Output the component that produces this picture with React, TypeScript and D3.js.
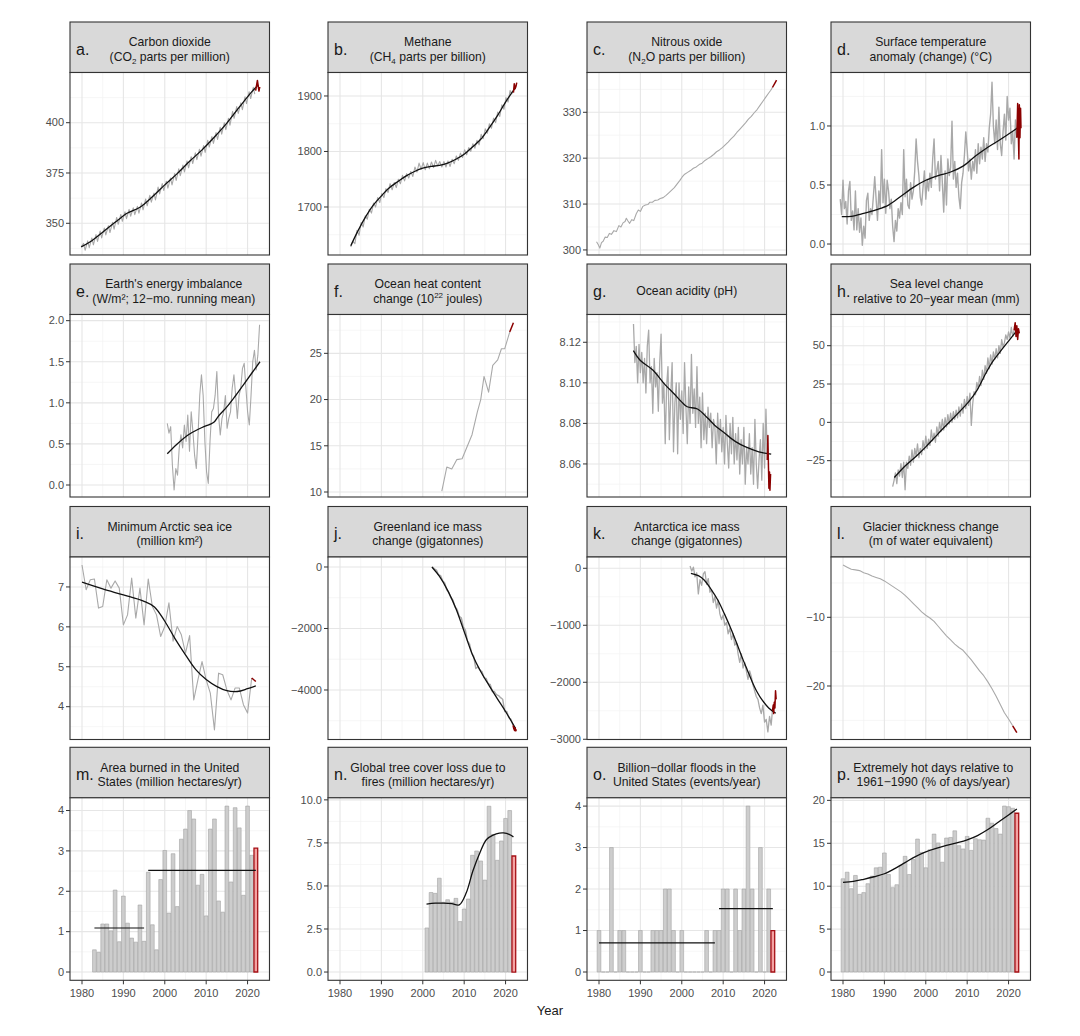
import React from "react";
import * as d3 from "d3";

type Pt = [number, number];

// ---------------- shared axis data ----------------
const X_DOMAIN: [number, number] = [1977.1, 2025.3];
const YEARS_MAJOR = [1980, 1990, 2000, 2010, 2020];
const YEARS_MINOR = [1985, 1995, 2005, 2015, 2025];
const X_TICK_LABELS = ["1980", "1990", "2000", "2010", "2020"];

// ---------------- a. CO2 ----------------
const co2Peak = [340.0, 341.3, 342.7, 344.4, 346.1, 347.6, 348.8, 350.5, 352.9, 354.4, 355.7, 356.9, 357.7, 358.4, 360.1, 362.1, 363.9, 365.0, 368.0, 369.7, 370.9, 372.5, 374.7, 377.1, 378.9, 381.0, 383.1, 385.0, 386.8, 388.6, 391.3, 393.1, 395.1, 397.7, 399.9, 402.2, 405.6, 408.0, 409.9, 412.9, 415.4, 417.6];
const co2Trough = [336.6, 337.9, 339.3, 341.0, 342.7, 344.2, 345.4, 347.1, 349.5, 351.0, 352.3, 353.5, 354.3, 355.0, 356.7, 358.7, 360.5, 361.6, 364.6, 366.3, 367.5, 369.1, 371.3, 373.7, 375.5, 377.6, 379.7, 381.6, 383.4, 385.2, 387.9, 389.7, 391.7, 394.3, 396.5, 398.8, 402.2, 404.6, 406.5, 409.5, 412.0, 414.2];
const co2Trend: Pt[] = [[1979.8, 338.3], [1982, 340.8], [1985, 345.6], [1988, 350.5], [1991, 355.1], [1994, 358.0], [1997, 363.2], [2000, 369.1], [2003, 374.7], [2006, 380.8], [2009, 386.5], [2012, 392.9], [2015, 399.8], [2018, 407.7], [2021, 415.3], [2022.6, 418.8]];
const co2Red: Pt[] = [[2021.95, 416.0], [2022.38, 421.0], [2022.75, 415.7], [2022.95, 417.8]];

// ---------------- b. CH4 ----------------
const ch4Peak = [1638, 1658, 1672, 1684, 1696, 1707, 1717, 1724, 1733, 1742, 1744, 1750, 1757, 1760, 1764, 1772, 1779, 1780, 1779, 1781, 1784, 1782, 1782, 1783, 1786, 1792, 1797, 1803, 1807, 1814, 1820, 1831, 1841, 1850, 1860, 1871, 1884, 1897, 1910];
const ch4Trough = [1634, 1649, 1664, 1678, 1689, 1700, 1708, 1717, 1726, 1731, 1735, 1742, 1747, 1752, 1755, 1763, 1768, 1767, 1769, 1771, 1774, 1772, 1772, 1773, 1778, 1784, 1789, 1794, 1800, 1806, 1812, 1823, 1833, 1842, 1852, 1863, 1876, 1889, 1903];
const ch4Trend: Pt[] = [[1982.6, 1630], [1984, 1652], [1986, 1680], [1988, 1703], [1990, 1720], [1992, 1735], [1994, 1746], [1996, 1756], [1998, 1764], [2000, 1770], [2002, 1773], [2004, 1775], [2006, 1779], [2008, 1786], [2010, 1795], [2012, 1808], [2014, 1822], [2016, 1842], [2018, 1864], [2020, 1889], [2022.3, 1914]];
const ch4Red: Pt[] = [[2021.9, 1906], [2022.1, 1922], [2022.3, 1913], [2022.5, 1917], [2022.7, 1924]];

// ---------------- c. N2O ----------------
const n2oGray: Pt[] = [[1979.4, 301.8], [1979.8, 301.2], [1980.2, 300.4], [1980.6, 301.6], [1981.0, 301.9], [1981.5, 302.8], [1982.0, 302.7], [1982.5, 303.6], [1983.0, 303.4], [1983.6, 304.2], [1984.2, 304.0], [1984.8, 305.3], [1985.3, 305.0], [1985.8, 305.9], [1986.3, 306.2], [1986.6, 306.9], [1987.0, 306.3], [1987.4, 305.8], [1987.9, 306.6], [1988.4, 306.4], [1989.0, 307.9], [1989.5, 308.7], [1990.0, 308.4], [1990.6, 309.5], [1991.2, 309.8], [1991.8, 309.9], [1992.3, 310.4], [1992.9, 310.4], [1993.5, 310.8], [1994.2, 310.9], [1994.8, 311.2], [1995.5, 311.4], [1996.2, 311.9], [1996.8, 312.4], [1997.5, 313.0], [1998.2, 313.6], [1998.8, 314.3], [1999.5, 315.1], [2000.1, 315.9], [2000.7, 316.5], [2001.4, 316.9], [2002.1, 317.3], [2002.8, 317.8], [2003.5, 318.1], [2004.2, 318.6], [2004.9, 318.9], [2005.6, 319.5], [2006.3, 319.9], [2007.0, 320.3], [2007.7, 320.8], [2008.4, 321.4], [2009.1, 321.8], [2009.8, 322.3], [2010.5, 322.9], [2011.2, 323.5], [2011.9, 324.2], [2012.6, 324.8], [2013.3, 325.6], [2014.0, 326.3], [2014.7, 327.0], [2015.4, 327.7], [2016.1, 328.5], [2016.8, 329.1], [2017.5, 329.9], [2018.2, 330.6], [2018.9, 331.5], [2019.6, 332.4], [2020.3, 333.3], [2021.0, 334.2], [2021.5, 334.8], [2021.9, 335.4]];
const n2oRed: Pt[] = [[2021.9, 335.4], [2022.4, 336.2], [2022.9, 337.0]];

// ---------------- d. Surface temperature ----------------
const tempStart = 1979.333;
const tempGray = [0.38, 0.25,
  0.54, 0.30, 0.36, 0.17, 0.45, 0.53, 0.20, 0.28, 0.12, 0.45, 0.12, 0.30, 0.10, 0.22, -0.01,
  0.15, 0.05, 0.37, 0.43, 0.20, 0.30, 0.25, 0.40, 0.57, 0.38, 0.20, 0.45, 0.30, 0.80, 0.35,
  0.55, 0.26, 0.54, 0.45, 0.30, 0.38, 0.15, 0.02, 0.20, 0.11, 0.30, 0.22, 0.35, 0.25, 0.80,
  0.40, 0.55, 0.33, 0.30, 0.52, 0.38, 0.45, 0.62, 0.89, 0.70, 0.58, 0.40, 0.33, 0.48, 0.62,
  0.38, 0.55, 0.45, 0.60, 0.48, 0.72, 0.89, 0.55, 0.62, 0.70, 0.45, 0.75, 0.52, 0.27, 0.62,
  0.33, 0.72, 0.58, 0.65, 1.04, 0.55, 0.70, 0.48, 0.60, 0.40, 0.30, 0.52, 0.60, 0.75, 0.95,
  0.80, 0.62, 0.72, 0.55, 0.70, 0.62, 0.80, 0.60, 0.85, 0.68, 0.82, 0.72, 0.90, 0.70, 0.85,
  0.78, 0.98, 1.10, 1.37, 1.00, 0.85, 1.05, 0.80, 1.16, 0.85, 0.75, 0.95, 1.10, 0.88, 1.25,
  1.05, 1.15, 0.85, 0.95, 0.72, 1.05, 0.90];
const tempTrend: Pt[] = [[1979.7, 0.232], [1982, 0.235], [1985, 0.26], [1988, 0.29], [1991, 0.33], [1994, 0.405], [1997, 0.48], [2000, 0.54], [2003, 0.58], [2006, 0.61], [2009, 0.66], [2012, 0.745], [2015, 0.82], [2018, 0.885], [2021, 0.955], [2022.6, 0.995]];
const tempRed: Pt[] = [[2022.0, 0.9], [2022.2, 1.19], [2022.35, 0.95], [2022.5, 0.72], [2022.6, 1.18], [2022.75, 0.9], [2022.9, 1.15], [2023.0, 0.98]];

// ---------------- e. Energy imbalance ----------------
const eeiStart = 2000.6;
const eeiStep = 0.413;
const eeiGray = [0.75, 0.63, 0.71, 0.24, -0.06, 0.2, 0.12, 0.45, 0.61, 0.45, 0.73, 0.53, 0.85, 0.41, 0.89, 0.65, 0.36, 0.2, 0.61, 1.09, 1.34, 1.09, 0.53, 0.16, 0.02, 0.53, 0.89, 0.93, 1.09, 1.38, 0.85, 0.61, 0.81, 0.89, 1.09, 0.69, 0.81, 0.89, 1.18, 1.34, 1.09, 0.81, 1.09, 1.18, 1.42, 1.48, 1.18, 0.89, 0.73, 1.09, 1.5, 1.64, 1.4, 1.58, 1.95];
const eeiTrend: Pt[] = [[2000.6, 0.38], [2003, 0.5], [2006, 0.62], [2009, 0.7], [2011, 0.74], [2012, 0.77], [2013, 0.84], [2015, 0.95], [2017, 1.08], [2019, 1.22], [2021, 1.36], [2023, 1.5]];

// ---------------- f. Ocean heat content ----------------
const ohcGray: Pt[] = [[2004.6, 10.1], [2005.8, 12.7], [2007.0, 12.5], [2008.2, 13.5], [2009.5, 13.6], [2010.7, 14.9], [2011.9, 16.2], [2013.2, 18.7], [2014.0, 20.0], [2014.8, 22.5], [2015.9, 20.8], [2016.9, 23.7], [2018.1, 24.3], [2019.0, 25.5], [2019.8, 25.5], [2021.0, 27.3]];
const ohcRed: Pt[] = [[2021.0, 27.3], [2021.9, 28.3]];

// ---------------- g. Ocean acidity ----------------
const phStart = 1988.333;
const phGray = [8.129, 8.110,
  8.118, 8.100, 8.119, 8.105, 8.115, 8.100, 8.112, 8.095, 8.118, 8.126, 8.100, 8.108,
  8.085, 8.112, 8.098, 8.105, 8.086, 8.110, 8.124, 8.090, 8.100, 8.070, 8.098, 8.108,
  8.072, 8.094, 8.110, 8.066, 8.090, 8.100, 8.065, 8.100, 8.082, 8.096, 8.075, 8.110,
  8.088, 8.070, 8.098, 8.080, 8.114, 8.085, 8.097, 8.078, 8.108, 8.080, 8.093, 8.068,
  8.095, 8.072, 8.085, 8.070, 8.088, 8.078, 8.085, 8.068, 8.082, 8.078, 8.060, 8.085,
  8.070, 8.082, 8.066, 8.078, 8.060, 8.084, 8.070, 8.058, 8.080, 8.065, 8.083, 8.060,
  8.075, 8.062, 8.078, 8.055, 8.072, 8.060, 8.078, 8.050, 8.068, 8.060, 8.075, 8.055,
  8.068, 8.050, 8.082, 8.060, 8.048, 8.062, 8.072, 8.052, 8.080, 8.058, 8.087, 8.062];
const phTrend: Pt[] = [[1988.3, 8.1159], [1990, 8.111], [1993, 8.1063], [1996, 8.099], [1998, 8.0949], [2000, 8.0905], [2001.3, 8.0882], [2003.8, 8.0871], [2006.3, 8.0825], [2008, 8.079], [2010.4, 8.0751], [2013, 8.071], [2015.3, 8.0685], [2018.6, 8.066], [2021.6, 8.0648]];
const phRed: Pt[] = [[2020.67, 8.062], [2020.8, 8.074], [2020.95, 8.058], [2021.05, 8.048], [2021.2, 8.056], [2021.3, 8.047], [2021.45, 8.055]];

// ---------------- h. Sea level ----------------
const slStart = 1992.0;
const slGray = [-42, -38, -33, -40, -31, -35, -27, -36, -26, -44, -26, -30, -22, -28, -18,
  -26, -17, -22, -14, -23, -17, -21, -12, -18, -9, -17, -11, -15, -5, -12, -7, -13, -3,
  -9, 0, -6, 2, -5, 3, -3, 5, -1, 6, 0, 7, 2, 8, 3, 10, 4, 12, 6, 15, 9, 17, 11, 19,
  -2, 12, 20, 18, 26, 22, 30, 24, 34, 28, 37, 32, 42, 35, 44, 38, 46, 41, 48, 42, 50,
  45, 54, 49, 52, 57, 54, 59, 55, 62, 56, 60];
const slTrend: Pt[] = [[1992.4, -36], [1995, -28.5], [1998, -21.3], [2000, -16], [2002.1, -10], [2004, -4.5], [2006.2, 1.5], [2008, 6.5], [2010.4, 13.5], [2012.4, 21], [2014.5, 32], [2016, 39], [2017.8, 45.5], [2020, 53], [2022.2, 60.5]];
const slRed: Pt[] = [[2021.33, 60], [2021.6, 65], [2021.8, 56], [2022.0, 63], [2022.2, 54], [2022.4, 61], [2022.6, 58]];

// ---------------- i. Arctic sea ice ----------------
const iceStart = 1980;
const iceGray = [7.55, 6.93, 7.18, 7.2, 6.47, 6.51, 7.18, 6.97, 7.15, 6.97, 6.05, 6.3, 7.22, 6.22, 6.97, 6.05, 7.2, 6.51, 6.3, 5.76, 6.01, 6.6, 5.64, 6.01, 5.8, 5.34, 5.78, 4.17, 4.67, 5.13, 4.67, 4.34, 3.42, 4.84, 4.8, 4.42, 4.17, 4.47, 4.47, 4.05, 3.84, 4.72];
const iceTrend: Pt[] = [[1980, 7.12], [1985, 6.95], [1990, 6.8], [1995, 6.64], [1997.5, 6.5], [2000, 6.14], [2002.5, 5.7], [2005, 5.3], [2007.5, 4.93], [2010, 4.68], [2012.5, 4.51], [2015, 4.4], [2017.5, 4.38], [2020, 4.45], [2022, 4.52]];
const iceRed: Pt[] = [[2021, 4.72], [2022, 4.63]];

// ---------------- j. Greenland ----------------
const grlGray: Pt[] = [[2002.3, 0], [2002.8, -60], [2003.3, -100], [2003.8, -250], [2004.3, -280], [2004.8, -450], [2005.3, -520], [2005.8, -750], [2006.3, -820], [2006.8, -1000], [2007.3, -1080], [2007.8, -1300], [2008.3, -1380], [2008.8, -1600], [2009.3, -1650], [2009.8, -1950], [2010.3, -2050], [2010.8, -2400], [2011.3, -2500], [2011.8, -2800], [2012.3, -2900], [2012.8, -3300], [2013.3, -3250], [2013.8, -3350], [2014.3, -3400], [2014.8, -3600], [2015.3, -3620], [2015.8, -3800], [2016.3, -3820], [2016.8, -4050], [2017.3, -4050], [2017.8, -4150], [2018.3, -4180], [2018.8, -4250], [2019.3, -4300], [2019.8, -4700], [2020.3, -4700], [2020.8, -4900], [2021.3, -4950], [2021.8, -5150]];
const grlTrend: Pt[] = [[2002.2, 0], [2004, -300], [2006, -760], [2008, -1350], [2010, -2100], [2012, -2850], [2014, -3400], [2016, -3850], [2018, -4280], [2020, -4700], [2022.4, -5250]];
const grlRed: Pt[] = [[2021.8, -5150], [2022.0, -5260], [2022.2, -5320], [2022.3, -5230], [2022.5, -5330], [2022.6, -5280]];

// ---------------- k. Antarctica ----------------
const antGray: Pt[] = [[2002.0, 40], [2002.4, -50], [2002.8, 20], [2003.2, -150], [2003.6, -80], [2004.0, -450], [2004.4, -200], [2004.8, -300], [2005.2, -100], [2005.6, -60], [2006.0, -280], [2006.4, -180], [2006.8, -420], [2007.2, -380], [2007.6, -600], [2008.0, -500], [2008.4, -700], [2008.8, -560], [2009.2, -800], [2009.6, -900], [2010.0, -820], [2010.4, -1000], [2010.8, -950], [2011.2, -1150], [2011.6, -1050], [2012.0, -1250], [2012.4, -1150], [2012.8, -1350], [2013.2, -1300], [2013.6, -1500], [2014.0, -1650], [2014.4, -1500], [2014.8, -1750], [2015.2, -1650], [2015.6, -1800], [2016.0, -1950], [2016.4, -1800], [2016.8, -1900], [2017.2, -2050], [2017.6, -2150], [2018.0, -2250], [2018.4, -2300], [2018.8, -2450], [2019.2, -2550], [2019.6, -2400], [2020.0, -2700], [2020.4, -2650], [2020.8, -2870], [2021.2, -2600], [2021.6, -2750], [2021.9, -2500]];
const antTrend: Pt[] = [[2002.2, -88], [2004, -130], [2005.4, -205], [2007, -360], [2008.7, -556], [2010.3, -800], [2012, -1082], [2013.3, -1320], [2014.5, -1550], [2015.8, -1780], [2017, -1989], [2018.2, -2170], [2019.4, -2310], [2021, -2450], [2022.7, -2544]];
const antRed: Pt[] = [[2021.9, -2500], [2022.1, -2400], [2022.2, -2550], [2022.35, -2350], [2022.5, -2450], [2022.65, -2150], [2022.8, -2300]];

// ---------------- l. Glaciers ----------------
const glacStart = 1980;
const glacGray = [-2.4, -2.7, -3.0, -3.1, -3.2, -3.5, -3.7, -4.0, -4.2, -4.4, -4.7, -5.1, -5.5, -5.9, -6.3, -6.8, -7.4, -8.0, -8.6, -9.2, -9.7, -10.1, -10.6, -11.3, -12.0, -12.7, -13.3, -13.9, -14.4, -14.8, -15.5, -16.2, -17.0, -17.8, -18.5, -19.4, -20.4, -21.5, -22.7, -23.9, -24.8, -25.8];
const glacRed: Pt[] = [[2021, -25.8], [2022, -26.8]];

// ---------------- m. Area burned ----------------
const burnStart = 1983;
const burnValues = [0.55, 0.49, 1.19, 1.19, 1.02, 2.03, 0.75, 1.88, 1.21, 0.84, 0.74, 1.66, 0.76, 2.47, 1.17, 0.55, 2.29, 3.01, 1.46, 2.93, 1.62, 3.29, 3.54, 4.0, 3.79, 2.15, 2.42, 1.39, 3.54, 3.79, 1.76, 1.48, 4.11, 2.23, 4.07, 3.57, 1.9, 4.11, 2.89, 3.07];
const burnMeans: [number, number, number][] = [[1983, 1995, 1.09], [1996, 2022, 2.52]];

// ---------------- n. Tree cover loss ----------------
const treeStart = 2001;
const treeValues = [2.56, 4.62, 4.57, 5.45, 4.05, 4.2, 4.05, 4.28, 2.93, 3.66, 4.24, 6.78, 7.03, 6.45, 5.34, 9.63, 7.99, 6.49, 7.61, 8.92, 9.38, 6.74];
const treeTrend: Pt[] = [[2000.9, 3.95], [2003, 4.0], [2005, 4.0], [2007, 3.97], [2008.8, 3.9], [2010.5, 4.6], [2012.1, 5.87], [2013.8, 6.93], [2015.4, 7.7], [2017, 7.95], [2018.5, 8.07], [2019.5, 8.08], [2021, 7.98], [2021.9, 7.85]];

// ---------------- o. Floods ----------------
const floodStart = 1980;
const floodValues = [1, 0, 0, 3, 0, 1, 1, 0, 0, 0, 1, 0, 0, 1, 1, 1, 2, 2, 1, 0, 1, 0, 0, 0, 0, 0, 1, 0, 1, 1, 2, 2, 0, 2, 1, 2, 4, 2, 0, 3, 0, 2, 1];
const floodMeans: [number, number, number][] = [[1980, 2008, 0.7], [2009, 2022, 1.53]];

// ---------------- p. Hot days ----------------
const hotStart = 1980;
const hotValues = [10.86, 11.63, 9.71, 11.25, 9.05, 9.25, 10.29, 11.17, 12.14, 12.21, 13.87, 11.36, 9.83, 10.17, 12.4, 13.48, 11.36, 13.1, 15.49, 13.94, 12.14, 14.25, 16.07, 15.03, 12.79, 15.61, 15.68, 16.45, 14.72, 14.34, 15.8, 14.17, 15.53, 15.41, 15.37, 17.92, 17.34, 16.72, 16.07, 19.34, 19.26, 19.08, 18.5];
const hotTrend: Pt[] = [[1980, 10.45], [1982.5, 10.55], [1985, 10.8], [1987.5, 11.1], [1990, 11.45], [1992.5, 12.05], [1995, 12.75], [1997.5, 13.45], [2000, 14.0], [2002.5, 14.4], [2005, 14.75], [2007.5, 15.05], [2010, 15.4], [2012.5, 15.9], [2015, 16.6], [2017.5, 17.45], [2020, 18.3], [2022, 19.0]];

// ---------------- helpers ----------------
const stepSeries = (start: number, step: number, vals: number[]): Pt[] => vals.map((v, i) => [start + i * step, v] as Pt);
const seasonal = (start: number, peaks: number[], troughs: number[], pOff: number, tOff: number, head: Pt[] = []): Pt[] => {
  const out: Pt[] = [...head];
  peaks.forEach((p, i) => {
    out.push([start + i + pOff, p]);
    out.push([start + i + tOff, troughs[i]]);
  });
  return out;
};

type Seg = { t: string; sub?: boolean; sup?: boolean };
type Bars = { start: number; values: number[]; redLast: boolean };
type PanelCfg = {
  letter: string;
  title: Seg[][];
  yDomain: [number, number];
  yTicks: number[];
  yLabels: string[];
  gray?: Pt[];
  grayWidth?: number;
  smooth?: Pt[];
  red?: Pt[];
  bars?: Bars;
  means?: [number, number, number][];
};

const M = "\u2212";

const panels: PanelCfg[] = [
  { letter: "a.", title: [[{ t: "Carbon dioxide" }], [{ t: "(CO" }, { t: "2", sub: true }, { t: " parts per million)" }]],
    yDomain: [334.24, 424.95], yTicks: [350, 375, 400], yLabels: ["350", "375", "400"],
    gray: seasonal(1980, co2Peak, co2Trough, 0.38, 0.75, [[1979.8, 338.3]]), smooth: co2Trend, red: co2Red },
  { letter: "b.", title: [[{ t: "Methane" }], [{ t: "(CH" }, { t: "4", sub: true }, { t: " parts per billion)" }]],
    yDomain: [1613.5, 1942.3], yTicks: [1700, 1800, 1900], yLabels: ["1700", "1800", "1900"],
    gray: seasonal(1983, ch4Peak, ch4Trough, 0.1, 0.6, [[1982.6, 1628]]), smooth: ch4Trend, red: ch4Red },
  { letter: "c.", title: [[{ t: "Nitrous oxide" }], [{ t: "(N" }, { t: "2", sub: true }, { t: "O parts per billion)" }]],
    yDomain: [298.9, 338.67], yTicks: [300, 310, 320, 330], yLabels: ["300", "310", "320", "330"],
    gray: n2oGray, red: n2oRed },
  { letter: "d.", title: [[{ t: "Surface temperature" }], [{ t: "anomaly (change) (\u00b0C)" }]],
    yDomain: [-0.093, 1.453], yTicks: [0, 0.5, 1], yLabels: ["0.0", "0.5", "1.0"],
    gray: stepSeries(tempStart, 1 / 3, tempGray), grayWidth: 1.4, smooth: tempTrend, red: tempRed },
  { letter: "e.", title: [[{ t: "Earth's energy imbalance" }], [{ t: "(W/m\u00b2; 12" + M + "mo. running mean)" }]],
    yDomain: [-0.146, 2.075], yTicks: [0, 0.5, 1, 1.5, 2], yLabels: ["0.0", "0.5", "1.0", "1.5", "2.0"],
    gray: stepSeries(eeiStart, eeiStep, eeiGray), smooth: eeiTrend },
  { letter: "f.", title: [[{ t: "Ocean heat content" }], [{ t: "change (10" }, { t: "22", sup: true }, { t: " joules)" }]],
    yDomain: [9.46, 29.2], yTicks: [10, 15, 20, 25], yLabels: ["10", "15", "20", "25"],
    gray: ohcGray, red: ohcRed },
  { letter: "g.", title: [[{ t: "Ocean acidity (pH)" }]],
    yDomain: [8.0437, 8.1337], yTicks: [8.06, 8.08, 8.1, 8.12], yLabels: ["8.06", "8.08", "8.10", "8.12"],
    gray: stepSeries(phStart, 1 / 3, phGray), grayWidth: 1.3, smooth: phTrend, red: phRed },
  { letter: "h.", title: [[{ t: "Sea level change" }], [{ t: "relative to 20" + M + "year mean (mm)" }]],
    yDomain: [-48.7, 70.35], yTicks: [-25, 0, 25, 50], yLabels: [M + "25", "0", "25", "50"],
    gray: stepSeries(slStart, 1 / 3, slGray), grayWidth: 1.3, smooth: slTrend, red: slRed },
  { letter: "i.", title: [[{ t: "Minimum Arctic sea ice" }], [{ t: "(million km\u00b2)" }]],
    yDomain: [3.178, 7.75], yTicks: [4, 5, 6, 7], yLabels: ["4", "5", "6", "7"],
    gray: stepSeries(iceStart, 1, iceGray), smooth: iceTrend, red: iceRed },
  { letter: "j.", title: [[{ t: "Greenland ice mass" }], [{ t: "change (gigatonnes)" }]],
    yDomain: [-5610, 325], yTicks: [-4000, -2000, 0], yLabels: [M + "4000", M + "2000", "0"],
    gray: grlGray, grayWidth: 1.4, smooth: grlTrend, red: grlRed },
  { letter: "k.", title: [[{ t: "Antarctica ice mass" }], [{ t: "change (gigatonnes)" }]],
    yDomain: [-3004, 198], yTicks: [-3000, -2000, -1000, 0], yLabels: [M + "3000", M + "2000", M + "1000", "0"],
    gray: antGray, grayWidth: 1.3, smooth: antTrend, red: antRed },
  { letter: "l.", title: [[{ t: "Glacier thickness change" }], [{ t: "(m of water equivalent)" }]],
    yDomain: [-27.79, -1.22], yTicks: [-20, -10], yLabels: [M + "20", M + "10"],
    gray: stepSeries(glacStart, 1, glacGray), red: glacRed },
  { letter: "m.", title: [[{ t: "Area burned in the United" }], [{ t: "States (million hectares/yr)" }]],
    yDomain: [-0.205, 4.315], yTicks: [0, 1, 2, 3, 4], yLabels: ["0", "1", "2", "3", "4"],
    bars: { start: burnStart, values: burnValues, redLast: true }, means: burnMeans },
  { letter: "n.", title: [[{ t: "Global tree cover loss due to" }], [{ t: "fires (million hectares/yr)" }]],
    yDomain: [-0.48, 10.12], yTicks: [0, 2.5, 5, 7.5, 10], yLabels: ["0.0", "2.5", "5.0", "7.5", "10.0"],
    bars: { start: treeStart, values: treeValues, redLast: true }, smooth: treeTrend },
  { letter: "o.", title: [[{ t: "Billion" + M + "dollar floods in the" }], [{ t: "United States (events/year)" }]],
    yDomain: [-0.2, 4.2], yTicks: [0, 1, 2, 3, 4], yLabels: ["0", "1", "2", "3", "4"],
    bars: { start: floodStart, values: floodValues, redLast: true }, means: floodMeans },
  { letter: "p.", title: [[{ t: "Extremely hot days relative to" }], [{ t: "1961" + M + "1990 (% of days/year)" }]],
    yDomain: [-0.967, 20.3], yTicks: [0, 5, 10, 15, 20], yLabels: ["0", "5", "10", "15", "20"],
    bars: { start: hotStart, values: hotValues, redLast: true }, smooth: hotTrend },
];

// ---------------- layout ----------------
const COL_X = [70, 328, 587, 831];
const ROW_Y = [22, 264, 506.5, 747.3];
const PANEL_W = 199.5;
const STRIP_H = 50.5;
const PLOT_H = 182.5;
const FONT = "'Liberation Sans', Arial, Helvetica, sans-serif";
const TITLE_SIZE = 12.2;
const SMALL_SIZE = 8;
const LETTER_SIZE = 16;

const GRAY = "#a9a9a9";
const DARKRED = "#8b0000";

let measureCtx: CanvasRenderingContext2D | null = null;
function textWidth(str: string, size: number): number {
  if (typeof document === "undefined") return str.length * size * 0.52;
  if (!measureCtx) measureCtx = document.createElement("canvas").getContext("2d");
  if (!measureCtx) return str.length * size * 0.52;
  measureCtx.font = `${size}px 'Liberation Sans', Arial, sans-serif`;
  return measureCtx.measureText(str).width;
}
function lineWidth(ln: Seg[]): number {
  return ln.reduce((s, seg) => s + textWidth(seg.t, seg.sub || seg.sup ? SMALL_SIZE : TITLE_SIZE), 0);
}

function minorTicks(ticks: number[], dom: [number, number]): number[] {
  if (ticks.length < 2) return [];
  const s = ticks[1] - ticks[0];
  const out: number[] = [];
  for (let v = ticks[0] - s / 2; v <= ticks[ticks.length - 1] + s / 2 + 1e-9; v += s) {
    if (v >= dom[0] && v <= dom[1]) out.push(v);
  }
  return out;
}

function Title({ lines, cx, top, minStart }: { lines: Seg[][]; cx: number; top: number; minStart: number }) {
  const base = lines.length === 1 ? [top + 30.7] : [top + 24.3, top + 38.7];
  const maxW = Math.max(...lines.map(lineWidth));
  const start = cx - maxW / 2;
  const shift = start < minStart ? minStart - start : 0;
  return (
    <g>
      {lines.map((ln, i) => (
        <text key={i} x={cx + shift} y={base[i]} textAnchor="middle" fontSize={TITLE_SIZE} fill="#1a1a1a" fontFamily={FONT}>
          {ln.map((s, j) => {
            if (s.sub) return <tspan key={j} fontSize={SMALL_SIZE} dy={3}>{s.t}</tspan>;
            if (s.sup) return <tspan key={j} fontSize={SMALL_SIZE} dy={-5}>{s.t}</tspan>;
            const prev = ln[j - 1];
            const dy = prev && prev.sub ? -3 : prev && prev.sup ? 5 : 0;
            return <tspan key={j} dy={dy}>{s.t}</tspan>;
          })}
        </text>
      ))}
    </g>
  );
}

function Panel({ p, idx }: { p: PanelCfg; idx: number }) {
  const col = idx % 4;
  const row = Math.floor(idx / 4);
  const x0 = COL_X[col];
  const top = ROW_Y[row];
  const pt = top + STRIP_H;
  const pb = pt + PLOT_H;
  const xs = d3.scaleLinear().domain(X_DOMAIN).range([x0, x0 + PANEL_W]);
  const ys = d3.scaleLinear().domain(p.yDomain).range([pb, pt]);
  const lineLin = d3.line<Pt>().x((d) => xs(d[0])).y((d) => ys(d[1]));
  const lineSmooth = d3.line<Pt>().x((d) => xs(d[0])).y((d) => ys(d[1])).curve(d3.curveCatmullRom.alpha(0.5));
  const clipId = `clip${idx}`;
  const yMinor = minorTicks(p.yTicks, p.yDomain);
  const bottomRow = row === 3;
  const bw = 0.9;
  const letterX = x0 + 6;
  const letterEnd = letterX + textWidth(p.letter, LETTER_SIZE);

  return (
    <g>
      <defs>
        <clipPath id={clipId}>
          <rect x={x0} y={pt} width={PANEL_W} height={PLOT_H} />
        </clipPath>
      </defs>
      {/* strip */}
      <rect x={x0} y={top} width={PANEL_W} height={STRIP_H} fill="#d9d9d9" stroke="#333" strokeWidth={1.1} />
      <text x={letterX} y={top + 32.7} fontSize={LETTER_SIZE} fill="#1a1a1a" fontFamily={FONT}>{p.letter}</text>
      <Title lines={p.title} cx={x0 + PANEL_W / 2} top={top} minStart={letterEnd + 3} />
      {/* plot background */}
      <rect x={x0} y={pt} width={PANEL_W} height={PLOT_H} fill="#fff" />
      <g clipPath={`url(#${clipId})`}>
        {YEARS_MINOR.map((v) => (
          <line key={"xm" + v} x1={xs(v)} x2={xs(v)} y1={pt} y2={pb} stroke="#f2f2f2" strokeWidth={0.7} />
        ))}
        {yMinor.map((v) => (
          <line key={"ym" + v} x1={x0} x2={x0 + PANEL_W} y1={ys(v)} y2={ys(v)} stroke="#f2f2f2" strokeWidth={0.7} />
        ))}
        {YEARS_MAJOR.map((v) => (
          <line key={"xM" + v} x1={xs(v)} x2={xs(v)} y1={pt} y2={pb} stroke="#e6e6e6" strokeWidth={1.1} />
        ))}
        {p.yTicks.map((v) => (
          <line key={"yM" + v} x1={x0} x2={x0 + PANEL_W} y1={ys(v)} y2={ys(v)} stroke="#e6e6e6" strokeWidth={1.1} />
        ))}
        {p.bars &&
          p.bars.values.map((v, i) => {
            const yr = p.bars!.start + i;
            const isRed = p.bars!.redLast && i === p.bars!.values.length - 1;
            const xa = xs(yr - bw / 2);
            const xb = xs(yr + bw / 2);
            const y0 = ys(0);
            const y1 = ys(v);
            const d = `M${xa},${y0}V${y1}H${xb}V${y0}Z`;
            return (
              <path key={"b" + i} d={d} fill={isRed ? "#f4a3a3" : "#cdcdcd"} stroke={isRed ? "#a50f15" : "#a3a3a3"} strokeWidth={isRed ? 1.3 : 0.6} />
            );
          })}
        {p.means &&
          p.means.map((m, i) => (
            <line key={"m" + i} x1={xs(m[0])} x2={xs(m[1])} y1={ys(m[2])} y2={ys(m[2])} stroke="#111" strokeWidth={1.2} />
          ))}
        {p.gray && <path d={lineLin(p.gray) || ""} fill="none" stroke={GRAY} strokeWidth={p.grayWidth ?? 1.1} strokeLinejoin="round" />}
        {p.smooth && <path d={lineSmooth(p.smooth) || ""} fill="none" stroke="#111" strokeWidth={1.3} />}
        {p.red && <path d={lineLin(p.red) || ""} fill="none" stroke={DARKRED} strokeWidth={1.5} strokeLinejoin="round" />}
      </g>
      <rect x={x0} y={pt} width={PANEL_W} height={PLOT_H} fill="none" stroke="#333" strokeWidth={1.1} />
      {/* y axis */}
      {p.yTicks.map((v, i) => (
        <g key={"yt" + v}>
          <line x1={x0 - 4} x2={x0} y1={ys(v)} y2={ys(v)} stroke="#333" strokeWidth={1} />
          <text x={x0 - 6} y={ys(v) + 3.8} textAnchor="end" fontSize={11} fill="#4d4d4d" fontFamily={FONT}>
            {p.yLabels[i]}
          </text>
        </g>
      ))}
      {/* x axis on bottom row */}
      {bottomRow &&
        YEARS_MAJOR.map((v, i) => (
          <g key={"xt" + v}>
            <line x1={xs(v)} x2={xs(v)} y1={pb} y2={pb + 4} stroke="#333" strokeWidth={1} />
            <text x={xs(v)} y={pb + 16.3} textAnchor="middle" fontSize={11} fill="#4d4d4d" fontFamily={FONT}>
              {X_TICK_LABELS[i]}
            </text>
          </g>
        ))}
    </g>
  );
}

export default function App() {
  return (
    <svg width={1080} height={1036} viewBox="0 0 1080 1036" style={{ position: "absolute", left: 0, top: 0, background: "#fff" }}>
      <rect x={0} y={0} width={1080} height={1036} fill="#fff" />
      {panels.map((p, i) => (
        <Panel key={i} p={p} idx={i} />
      ))}
      <text x={550} y={1015} textAnchor="middle" fontSize={13} fill="#1a1a1a" fontFamily={FONT}>Year</text>
    </svg>
  );
}
